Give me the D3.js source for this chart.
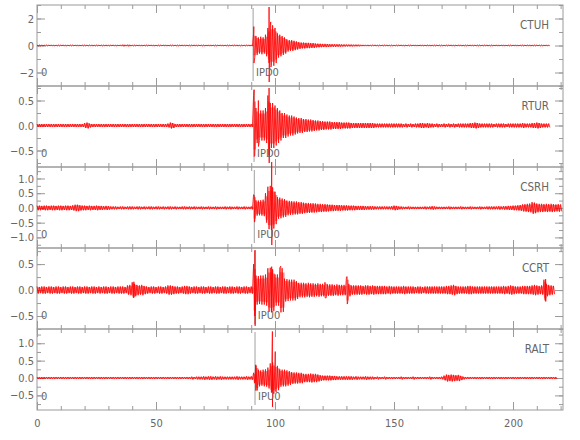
<!DOCTYPE html>
<html>
<head>
<meta charset="utf-8">
<script src="https://cdn.jsdelivr.net/npm/d3@7"></script>
<style>
  body { margin: 0; background: #fff; }
  text { font-family: 'Liberation Sans Narrow', 'DejaVu Sans Condensed', sans-serif; fill: #666; }
</style>
</head>
<body>
<div id="chart"></div>
<script>
// stations, top to bottom
const stations = ['CTUH', 'RTUR', 'CSRH', 'CCRT', 'RALT']
const pickTimes = [90.8, 91.2, 91.3, 91.5, 91.6]
const pickLabels = ['IPD0', 'IPD0', 'IPU0', 'IPU0', 'IPU0']
const yDomains = [[-3, 3], [-0.83, 0.79], [-1.36, 1.39], [-0.75, 0.81], [-0.92, 1.41]]
const yLabelTicks = [[-2, 0, 2], [-0.5, 0, 0.5], [-1, -0.5, 0, 0.5, 1], [-0.5, 0, 0.5], [-0.5, 0, 0.5, 1]]
const yMinorStep = [1, 0.25, 0.25, 0.25, 0.25]
const xTickLabels = [0, 50, 100, 150, 200]

// trace envelope (peak amplitude in each 1 s step, t = 0, 1, 2 ...)
const ampCTUH = [
  .04,.04,.05,.04,.04,.04,.05,.04,.04,.04, .04,.05,.04,.04,.04,.04,.04,.05,.04,.04,
  .04,.04,.04,.05,.04,.04,.04,.04,.04,.05, .04,.04,.05,.04,.04,.05,.06,.05,.06,.05,
  .04,.04,.04,.05,.04,.04,.04,.04,.05,.04, .04,.04,.04,.04,.05,.04,.04,.04,.04,.04,
  .04,.05,.04,.04,.04,.04,.05,.04,.04,.04, .04,.04,.05,.04,.04,.04,.04,.05,.04,.04,
  .04,.04,.04,.04,.05,.04,.04,.04,.04,.05, .05,.9,.7,.6,.65,.6,.8,1.3,1.5,1.5,
  1.3,.9,.8,.7,.6,.45,.4,.4,.35,.3, .25,.22,.22,.2,.2,.18,.18,.15,.14,.13,
  .12,.12,.11,.1,.1,.1,.09,.09,.08,.08, .07,.07,.07,.06,.06,.06,.05,.05,.05,.05,
  .04,.04,.05,.04,.04,.04,.04,.05,.04,.04, .04,.04,.04,.05,.04,.04,.04,.04,.04,.05,
  .04,.05,.04,.04,.04,.05,.04,.04,.04,.04, .04,.04,.04,.04,.05,.04,.04,.04,.05,.04,
  .04,.04,.05,.04,.04,.04,.04,.04,.04,.05, .04,.04,.04,.05,.04,.04,.05,.04,.04,.04,
  .04,.05,.04,.04,.04,.04,.04,.05,.04,.04, .04,.04,.04,.04,.05,.04
]
const ampRTUR = [
  .03,.03,.03,.03,.03,.03,.03,.03,.03,.03, .03,.03,.03,.03,.03,.03,.03,.03,.03,.03,
  .05,.06,.04,.03,.03,.03,.03,.03,.03,.03, .03,.03,.03,.03,.03,.03,.03,.03,.03,.03,
  .03,.03,.03,.03,.03,.03,.03,.03,.03,.03, .03,.03,.03,.03,.03,.04,.06,.05,.03,.03,
  .03,.03,.03,.03,.03,.03,.03,.03,.03,.03, .03,.03,.03,.03,.03,.03,.03,.03,.03,.03,
  .03,.03,.03,.03,.03,.03,.03,.03,.03,.03, .03,.6,.35,.3,.3,.3,.35,.6,.45,.45,
  .4,.35,.3,.25,.25,.22,.2,.2,.18,.16, .15,.15,.13,.13,.12,.12,.11,.1,.1,.09,
  .09,.08,.08,.08,.07,.07,.07,.07,.06,.06, .06,.06,.05,.05,.05,.05,.05,.05,.05,.05,
  .05,.05,.04,.04,.04,.04,.04,.04,.04,.04, .04,.04,.04,.04,.03,.04,.03,.04,.03,.04,
  .04,.05,.05,.04,.05,.04,.04,.03,.04,.03, .03,.04,.03,.04,.03,.04,.03,.04,.04,.04,
  .04,.04,.05,.05,.06,.05,.04,.04,.04,.04, .04,.04,.03,.04,.04,.04,.04,.03,.04,.04,
  .04,.04,.04,.04,.05,.04,.04,.04,.05,.05, .06,.05,.04,.04,.04,.04
]
const ampCSRH = [
  .08,.08,.07,.08,.08,.07,.08,.08,.07,.08, .08,.07,.08,.08,.07,.09,.11,.11,.09,.08,
  .08,.07,.08,.07,.07,.08,.07,.07,.06,.07, .06,.05,.05,.05,.04,.05,.05,.04,.05,.05,
  .05,.04,.05,.05,.04,.05,.04,.05,.05,.04, .05,.05,.04,.05,.04,.05,.05,.04,.05,.04,
  .04,.05,.05,.04,.05,.04,.05,.04,.04,.05, .04,.04,.05,.04,.04,.05,.04,.04,.04,.05,
  .04,.05,.04,.04,.05,.04,.04,.05,.04,.04, .05,.45,.26,.25,.26,.28,.5,.72,.75,.7,
  .55,.37,.35,.32,.3,.25,.24,.23,.22,.22, .2,.2,.18,.17,.17,.16,.16,.15,.14,.14,
  .13,.13,.12,.11,.11,.1,.1,.1,.09,.09, .09,.08,.08,.08,.07,.07,.07,.07,.06,.06,
  .06,.06,.05,.05,.05,.05,.05,.05,.05,.06, .08,.07,.05,.05,.04,.04,.05,.04,.04,.04,
  .04,.04,.04,.05,.04,.05,.06,.05,.04,.04, .04,.04,.04,.05,.04,.04,.04,.04,.05,.04,
  .04,.04,.05,.04,.04,.04,.05,.04,.04,.05, .05,.05,.05,.05,.06,.05,.06,.06,.07,.07,
  .08,.08,.09,.1,.12,.13,.14,.15,.2,.18, .15,.14,.14,.13,.14,.13,.14,.13,.12,.13,
  .12
]
const ampCCRT = [
  .07,.06,.07,.07,.06,.07,.07,.06,.07,.07, .06,.07,.07,.06,.07,.07,.06,.07,.07,.06,
  .07,.07,.06,.07,.07,.06,.07,.06,.07,.07, .06,.07,.07,.06,.07,.07,.07,.06,.09,.1,
  .15,.12,.1,.09,.1,.08,.07,.06,.07,.07, .06,.07,.07,.06,.07,.09,.09,.08,.07,.07,
  .06,.07,.08,.08,.07,.06,.07,.07,.06,.07, .07,.06,.07,.07,.06,.07,.07,.06,.07,.07,
  .06,.07,.07,.06,.07,.07,.06,.07,.07,.06, .07,.5,.28,.27,.28,.28,.3,.42,.43,.4,
  .3,.3,.43,.42,.22,.21,.2,.2,.2,.17, .14,.14,.14,.13,.14,.13,.13,.12,.13,.12,
  .12,.15,.11,.11,.11,.1,.11,.1,.1,.1, .25,.12,.09,.09,.09,.09,.09,.08,.09,.09,
  .08,.09,.08,.08,.08,.08,.08,.07,.08,.07, .07,.07,.07,.07,.08,.07,.07,.07,.07,.06,
  .07,.07,.06,.07,.07,.07,.07,.07,.07,.07, .07,.07,.08,.08,.09,.1,.08,.07,.07,.07,
  .07,.08,.08,.07,.07,.07,.07,.07,.07,.07, .07,.07,.07,.07,.07,.07,.08,.07,.08,.09,
  .08,.07,.07,.07,.08,.08,.08,.08,.09,.1, .09,.08,.09,.2,.12,.1,.09,.08
]
const ampRALT = [
  .03,.03,.03,.03,.03,.03,.03,.03,.03,.03, .03,.03,.03,.03,.03,.03,.03,.03,.03,.03,
  .03,.03,.03,.03,.03,.03,.03,.03,.03,.03, .03,.03,.03,.03,.03,.03,.03,.03,.03,.03,
  .03,.03,.03,.03,.03,.03,.03,.03,.03,.03, .03,.03,.03,.03,.03,.03,.03,.03,.03,.03,
  .03,.03,.03,.03,.03,.04,.03,.04,.04,.04, .05,.04,.05,.05,.04,.05,.04,.05,.04,.04,
  .04,.04,.04,.04,.05,.04,.04,.04,.05,.04, .05,.15,.36,.24,.22,.24,.25,.3,.42,.45,
  .4,.35,.25,.24,.24,.22,.2,.17,.16,.16, .15,.15,.12,.12,.12,.13,.12,.12,.1,.08,
  .07,.07,.07,.07,.06,.06,.05,.05,.05,.05, .05,.05,.05,.04,.05,.04,.04,.04,.05,.04,
  .04,.04,.03,.04,.03,.03,.04,.03,.03,.03, .03,.03,.03,.04,.03,.03,.03,.03,.04,.03,
  .03,.03,.03,.03,.03,.04,.03,.03,.03,.03, .04,.07,.1,.09,.1,.09,.08,.09,.06,.04,
  .03,.03,.03,.03,.03,.03,.03,.03,.03,.03, .03,.03,.03,.03,.03,.03,.03,.03,.03,.03,
  .03,.03,.03,.03,.03,.03,.03,.03,.03,.03, .03,.03,.03,.03,.03,.03,.03,.03,.03
]
// isolated large peaks: [time, max, min]
const spikesCTUH = [[91.1, 1.4, -1.3], [97.5, 2.85, -2.7], [98.2, 1.75, -1.6]]
const spikesRTUR = [[91.2, 0.71, -0.62], [93.0, 0.5, -0.42], [97.5, 0.75, -0.75]]
const spikesCSRH = [[91.3, 0.43, -0.48], [98.6, 1.56, -1.26]]
const spikesCCRT = [[40.7, 0.16, -0.14], [91.6, 0.77, -0.69], [98.6, 0.45, -0.42],
  [102.4, 0.46, -0.35], [121.0, 0.15, -0.15], [130.3, 0.26, -0.27], [213.7, 0.21, -0.22]]
const spikesRALT = [[91.9, 0.38, -0.36], [98.9, 1.34, -0.83], [100.1, 0.76, -0.35]]

const amps = [ampCTUH, ampRTUR, ampCSRH, ampCCRT, ampRALT]
const spikes = [spikesCTUH, spikesRTUR, spikesCSRH, spikesCCRT, spikesRALT]

const width = 580
const height = 440
const margin = { top: 5, left: 37, right: 17 }
const panelH = 81
const axisColor = '#9a9a9a'

const svg = d3
  .select('#chart')
  .append('svg')
  .attr('width', width)
  .attr('height', height)

const x = d3
  .scaleLinear()
  .domain([0, 221])
  .range([margin.left, width - margin.right])

const xMinor = d3.range(0, 221, 10)

stations.forEach((name, i) => {
  const top = margin.top + i * panelH
  const y = d3
    .scaleLinear()
    .domain(yDomains[i])
    .range([top + panelH, top])

  const g = svg.append('g').attr('class', 'panel-' + name)

  // box
  g.append('rect')
    .attr('x', x(0))
    .attr('y', top)
    .attr('width', x(221) - x(0))
    .attr('height', panelH)
    .attr('fill', 'none')
    .attr('stroke', axisColor)

  // y ticks, left with labels, right without
  const [lo, hi] = yDomains[i]
  const step = yMinorStep[i]
  const minor = d3.range(Math.ceil(lo / step) * step, hi + 1e-9, step)

  const left = g.append('g').attr('transform', `translate(${x(0)},0)`)
  left.call(d3.axisLeft(y).tickValues(minor).tickSize(-4).tickSizeOuter(0).tickFormat(''))
  left.select('.domain').remove()
  const leftMajor = g.append('g').attr('transform', `translate(${x(0)},0)`)
  leftMajor.call(
    d3.axisLeft(y)
      .tickValues(yLabelTicks[i])
      .tickSize(-8)
      .tickPadding(3)
      .tickFormat(i === 0 ? d3.format('d') : d3.format('.1f'))
  )
  leftMajor.select('.domain').remove()
  leftMajor.selectAll('text').style('font-size', '11px').attr('fill', '#666')

  const right = g.append('g').attr('transform', `translate(${x(221)},0)`)
  right.call(d3.axisRight(y).tickValues(minor).tickSize(-4).tickFormat(''))
  right.select('.domain').remove()
  const rightMajor = g.append('g').attr('transform', `translate(${x(221)},0)`)
  rightMajor.call(d3.axisRight(y).tickValues(yLabelTicks[i]).tickSize(-8).tickFormat(''))
  rightMajor.select('.domain').remove()

  // x ticks on top and bottom of each panel
  const topAx = g.append('g').attr('transform', `translate(0,${top})`)
  topAx.call(d3.axisTop(x).tickValues(xMinor).tickSize(-4).tickFormat(''))
  topAx.select('.domain').remove()
  const topMaj = g.append('g').attr('transform', `translate(0,${top})`)
  topMaj.call(d3.axisTop(x).tickValues(xTickLabels).tickSize(-8).tickFormat(''))
  topMaj.select('.domain').remove()

  const botAx = g.append('g').attr('transform', `translate(0,${top + panelH})`)
  botAx.call(d3.axisBottom(x).tickValues(xMinor).tickSize(-4).tickFormat(''))
  botAx.select('.domain').remove()
  const botMaj = g.append('g').attr('transform', `translate(0,${top + panelH})`)
  botMaj.call(
    d3.axisBottom(x)
      .tickValues(xTickLabels)
      .tickSize(-8)
      .tickPadding(9)
      .tickFormat(i === stations.length - 1 ? d3.format('d') : '')
  )
  botMaj.select('.domain').remove()
  botMaj.selectAll('text').style('font-size', '11px').attr('fill', '#666')

  g.selectAll('.tick line').attr('stroke', axisColor)

  // pick marker
  g.append('line')
    .attr('x1', x(pickTimes[i]))
    .attr('x2', x(pickTimes[i]))
    .attr('y1', top + 3)
    .attr('y2', top + panelH - 5)
    .attr('stroke', '#888')
    .attr('stroke-width', 0.8)

  // envelope band underneath the trace
  const band = amps[i].map((a, t) => ({ t, a }))
  g.append('path')
    .datum(band)
    .attr('fill', '#ff0000')
    .attr('fill-opacity', 0.45)
    .attr('d', d3.area()
      .curve(d3.curveStepAfter)
      .x(d => x(d.t))
      .y0(d => y(-d.a * 0.8))
      .y1(d => y(d.a * 0.8)))

  // trace: zigzag through the envelope, plus isolated peaks
  const pts = []
  amps[i].forEach((a, t) => {
    pts.push([t, a])
    pts.push([t + 0.5, -a])
  })
  spikes[i].forEach(s => {
    pts.push([s[0], s[1]])
    pts.push([s[0] + 0.05, s[2]])
  })
  pts.sort((a, b) => a[0] - b[0])

  g.append('path')
    .datum(pts)
    .attr('fill', 'none')
    .attr('stroke', '#ff0000')
    .attr('stroke-width', 0.8)
    .attr('d', d3.line().x(d => x(d[0])).y(d => y(d[1])))

  // annotations
  g.append('text')
    .attr('x', x(0) + 4)
    .attr('y', top + 71)
    .style('font-size', '11px')
    .text('0')

  g.append('text')
    .attr('x', x(pickTimes[i]) + 3)
    .attr('y', top + 71)
    .style('font-size', '11px')
    .text(pickLabels[i])

  g.append('text')
    .attr('x', 549)
    .attr('y', top + 24)
    .attr('text-anchor', 'end')
    .style('font-size', '11.5px')
    .text(name)
})
</script>
</body>
</html>
